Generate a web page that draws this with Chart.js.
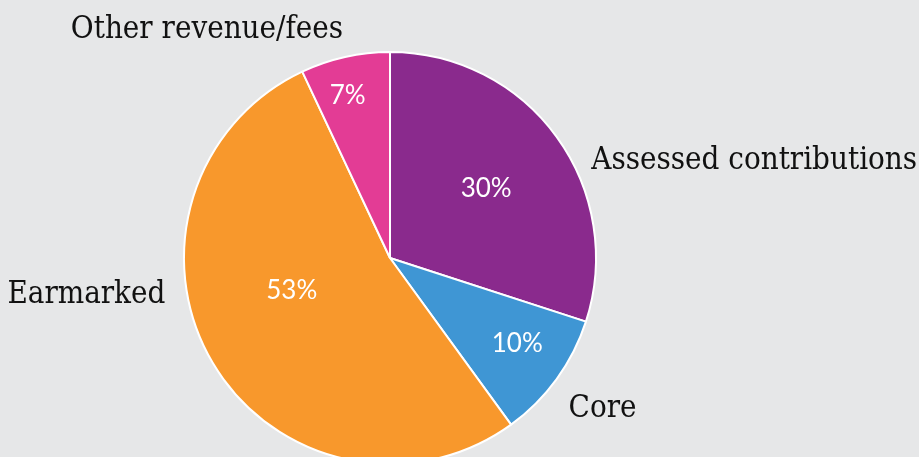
<!DOCTYPE html>
<html>
<head>
<meta charset="utf-8">
<script src="https://cdn.jsdelivr.net/npm/chart.js@4.4.1/dist/chart.umd.min.js"></script>
<style>
html,body{margin:0;padding:0;background:#e6e7e8;overflow:hidden;width:919px;height:457px;}
#wrap{position:absolute;left:0;top:0;width:919px;height:516px;}
canvas{display:block;}
</style>
</head>
<body>
<div id="wrap"><canvas id="c" width="919" height="516"></canvas></div>
<script>
const categories = ["Assessed contributions", "Core", "Earmarked", "Other revenue/fees"];
const shares = [30, 10, 53, 7];
const pctLabels = ["30%", "10%", "53%", "7%"];
const colors = ["#8a2a8d", "#3f96d4", "#f8982c", "#e33c95"];

// label placement (polar, relative to each slice): [radius fraction, angle offset deg]
const innerPlace = [[0.577, 0], [0.745, -2], [0.503, 12], [0.815, -2]];
// outer labels: [radius fraction, absolute angle from top (deg), align]
const outerPlace = [[1.085, 64.2, "left"], [1.135, 130.2, "left"], [1.105, 260.7, "right"], [1.418, 321.2, "center"]];

const labelPlugin = {
  id: "sliceLabels",
  afterDatasetsDraw(chart) {
    const ctx = chart.ctx;
    const meta = chart.getDatasetMeta(0);
    meta.data.forEach((arc, i) => {
      const p = arc.getProps(["x", "y", "startAngle", "endAngle", "outerRadius"], true);
      const mid = (p.startAngle + p.endAngle) / 2 + innerPlace[i][1] * Math.PI / 180;
      const r = p.outerRadius * innerPlace[i][0];
      ctx.save();
      ctx.fillStyle = "#ffffff";
      ctx.font = "26px Lato, 'Open Sans', sans-serif";
      ctx.textAlign = "center";
      ctx.textBaseline = "middle";
      ctx.fillText(pctLabels[i], p.x + r * Math.cos(mid), p.y + r * Math.sin(mid));
      const a = (outerPlace[i][1] - 90) * Math.PI / 180;
      const ro = p.outerRadius * outerPlace[i][0];
      ctx.fillStyle = "#111111";
      ctx.font = "31px 'DejaVu Serif Condensed', 'DejaVu Serif', serif";
      ctx.textAlign = outerPlace[i][2];
      ctx.fillText(categories[i], p.x + ro * Math.cos(a), p.y + ro * Math.sin(a));
      ctx.restore();
    });
  }
};

new Chart(document.getElementById("c"), {
  type: "pie",
  data: {
    labels: categories,
    datasets: [{
      data: shares,
      backgroundColor: colors,
      borderColor: "#ffffff",
      borderWidth: 2
    }]
  },
  options: {
    responsive: false,
    animation: false,
    devicePixelRatio: 1,
    layout: { padding: { top: 51, bottom: 51, left: 183, right: 322 } },
    plugins: { legend: { display: false }, tooltip: { enabled: false } }
  },
  plugins: [labelPlugin]
});
</script>
</body>
</html>
